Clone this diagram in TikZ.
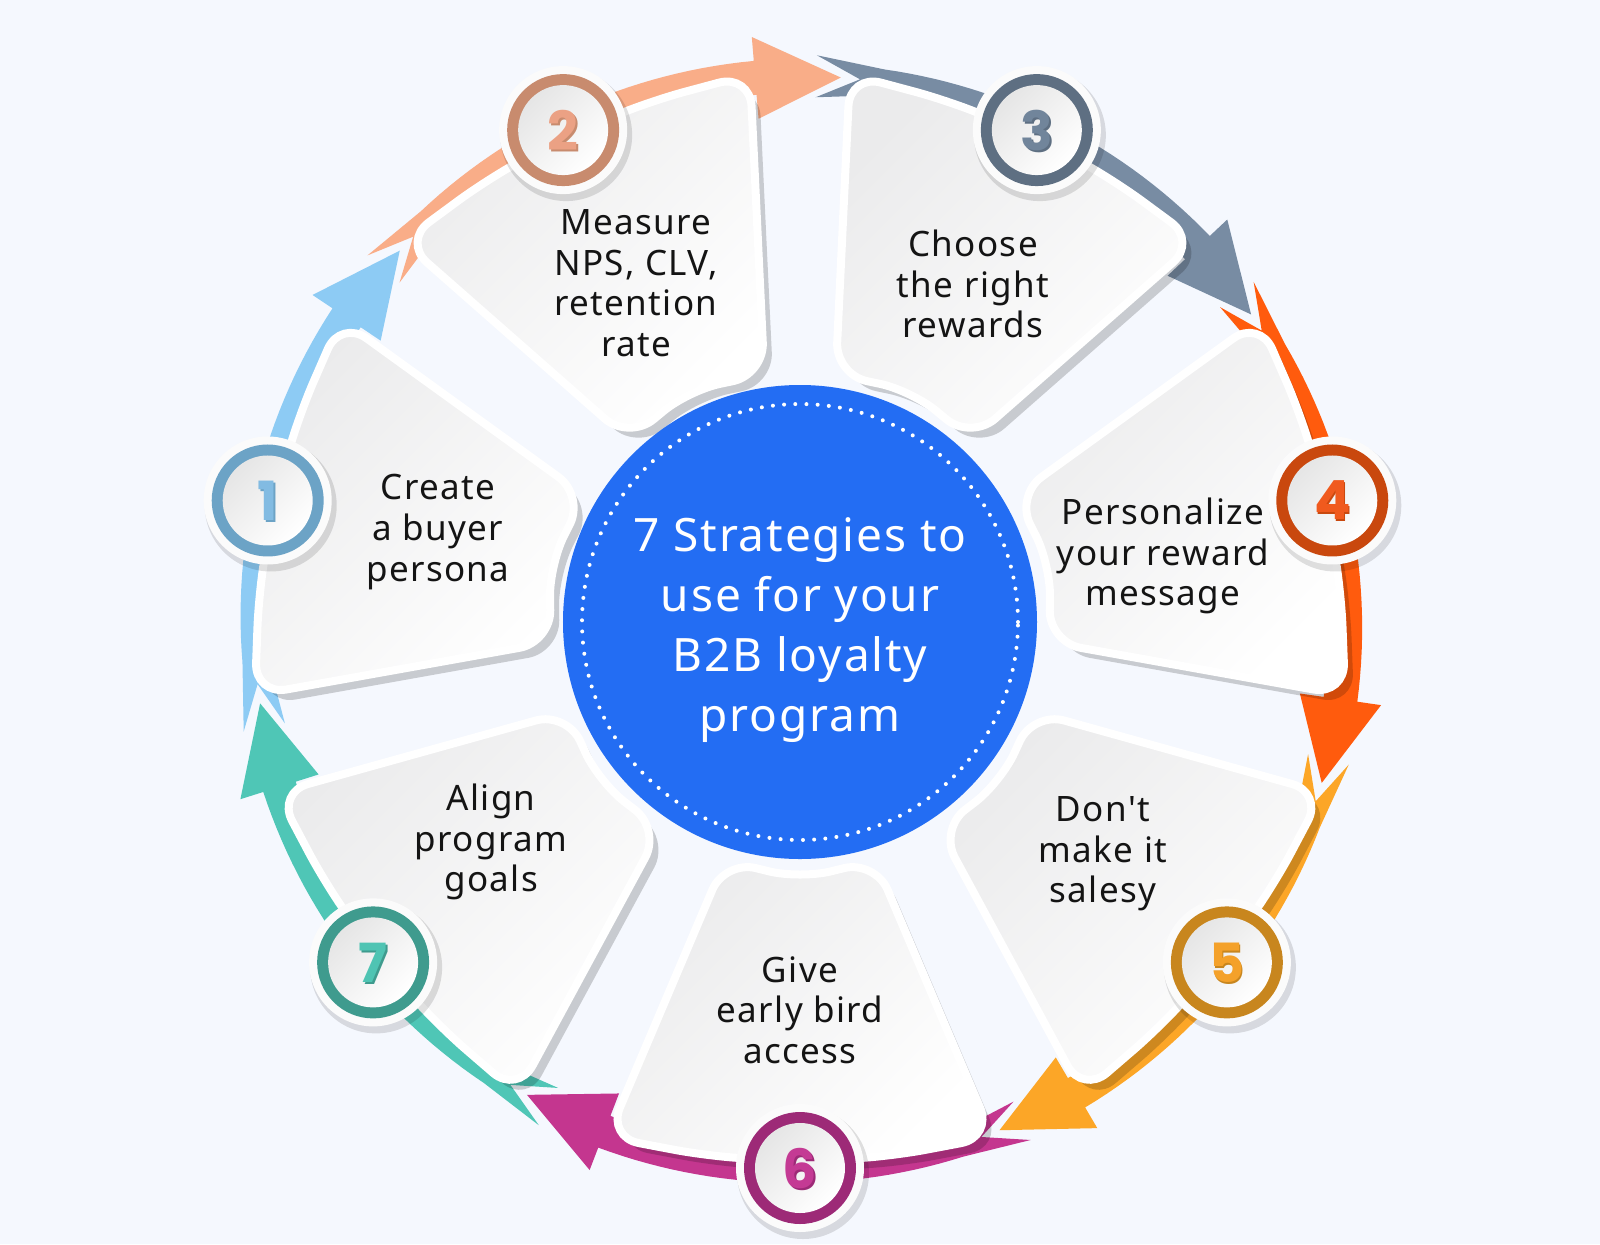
\documentclass[tikz,border=0pt]{standalone}
\usepackage{fontspec}
\setmainfont{Noto Sans}[LetterSpace=4, Ligatures=TeXOff]
\newfontfamily\numfont{Poppins}
\usetikzlibrary{calc}
\definecolor{bg}{HTML}{F5F8FE}
\definecolor{hub}{HTML}{236DF3}
\definecolor{petalgray}{HTML}{EBEBEC}
\definecolor{bandA}{HTML}{8DCBF4}
\definecolor{bandB}{HTML}{F9AD88}
\definecolor{bandC}{HTML}{788CA3}
\definecolor{bandD}{HTML}{FF5B0D}
\definecolor{bandE}{HTML}{FCA627}
\definecolor{bandF}{HTML}{C4368F}
\definecolor{bandG}{HTML}{4FC6B6}
\definecolor{ringA}{HTML}{6CA3C6}
\definecolor{ringB}{HTML}{C88B6E}
\definecolor{ringC}{HTML}{5E6F82}
\definecolor{ringD}{HTML}{C9480E}
\definecolor{ringE}{HTML}{C8861E}
\definecolor{ringF}{HTML}{9D2A77}
\definecolor{ringG}{HTML}{3F9B8E}
\definecolor{digA}{HTML}{82BBE2}
\definecolor{digB}{HTML}{EBA184}
\definecolor{digC}{HTML}{71859B}
\definecolor{digD}{HTML}{F05A1E}
\definecolor{digE}{HTML}{F4A12A}
\definecolor{digF}{HTML}{C43A94}
\definecolor{digG}{HTML}{4FC4B3}
\tikzset{
  petal path/.style={insert path={({#1-17.5}:250) -- (#1:257) -- ({#1+17.5}:250)
     -- ({#1+20.5}:550) -- ({#1+10}:542) -- (#1:540) -- ({#1-10}:542) -- ({#1-20.5}:550) -- cycle}},
  ptxt/.style={font=\fontsize{17.5}{20.3}\selectfont, text=black!92, align=center, inner sep=0pt},
  numtxt/.style={font=\numfont\bfseries\fontsize{27}{27}\selectfont, inner sep=0pt},
}
\begin{document}
\begin{tikzpicture}[x=0.5pt,y=0.5pt]
\useasboundingbox (-800,-622) rectangle (800,622);
\fill[bg] (-800,-622) rectangle (800,622);

% arrow bands
\foreach \a/\c in {167.14/bandA,115.71/bandB,64.29/bandC,12.86/bandD,-38.57/bandE,270/bandF,218.57/bandG}{
  \fill[\c] ({\a+24}:567) -- ({\a+19.4}:546) -- ({\a+24}:525) -- ({\a+17}:533)
   -- plot[domain={\a+17}:{\a-21}, samples=30] (\x:{533-4*(\a+17-\x)/38})
   -- ({\a-21}:505) -- ({\a-30}:546) -- ({\a-21}:587)
   -- plot[domain={\a-21}:{\a+17}, samples=30] (\x:{563-4*(\x-\a+21)/38})
   -- cycle;
}

% petal shadows
\foreach \a in {167.14,115.71,64.29,12.86,-38.57,270,218.57}{
  \fill[black, opacity=.18, rounded corners=16pt, shift={(9,-10)}, petal path=\a];
}
% petals
\foreach \a in {167.14,115.71,64.29,12.86,-38.57,270,218.57}{
  \path[rounded corners=16pt, top color=petalgray, bottom color=white, shading angle=45,
        draw=white, line width=4pt, petal path=\a];
}

% hub
\node[circle, fill=hub, minimum size=237pt, inner sep=0pt] (hub) at (0,0) {};
\draw[white, line width=2pt, dash pattern=on 0pt off 5.6pt, line cap=round] (hub.center) circle (218);
\node[font=\fontsize{23}{30}\selectfont, text=white, align=center, inner sep=0pt] (title) at (0,-8)
  {7 Strategies to\\use for your\\B2B loyalty\\program};

% number badges
\foreach \i/\a/\rc/\dc in {1/167.14/ringA/digA,2/115.71/ringB/digB,3/64.29/ringC/digC,4/12.86/ringD/digD,5/-38.57/ringE/digE,6/270/ringF/digF,7/218.57/ringG/digG}{
  \fill[black, opacity=.12] ($(\a:546)+(3,-5)$) circle (66);
  \fill[white!97!gray] (\a:546) circle (64);
  \fill[\rc] (\a:546) circle (56);
  \shade[top color=black!10, bottom color=white, shading angle=45] (\a:546) circle (45);
  \node[numtxt, text=\rc] (sh\i) at ($(\a:546)+(1.5,-2)$) {\i};
  \node[numtxt, text=\dc] (num\i) at (\a:546) {\i};
}

% petal texts
\node[ptxt] (t1) at (-362,90) {Create\\a buyer\\persona};
\node[ptxt] (t2) at (-164,339) {Measure\\NPS, CLV,\\retention\\rate};
\node[ptxt] (t3) at (173,338) {Choose\\the right\\rewards};
\node[ptxt] (t4) at (363,66) {Personalize\\your reward\\message};
\node[ptxt] (t5) at (303,-232) {Don't\\make it\\salesy};
\node[ptxt] (t6) at (0,-388) {Give\\early bird\\access};
\node[ptxt] (t7) at (-309,-220) {Align\\program\\goals};
\end{tikzpicture}
\end{document}
